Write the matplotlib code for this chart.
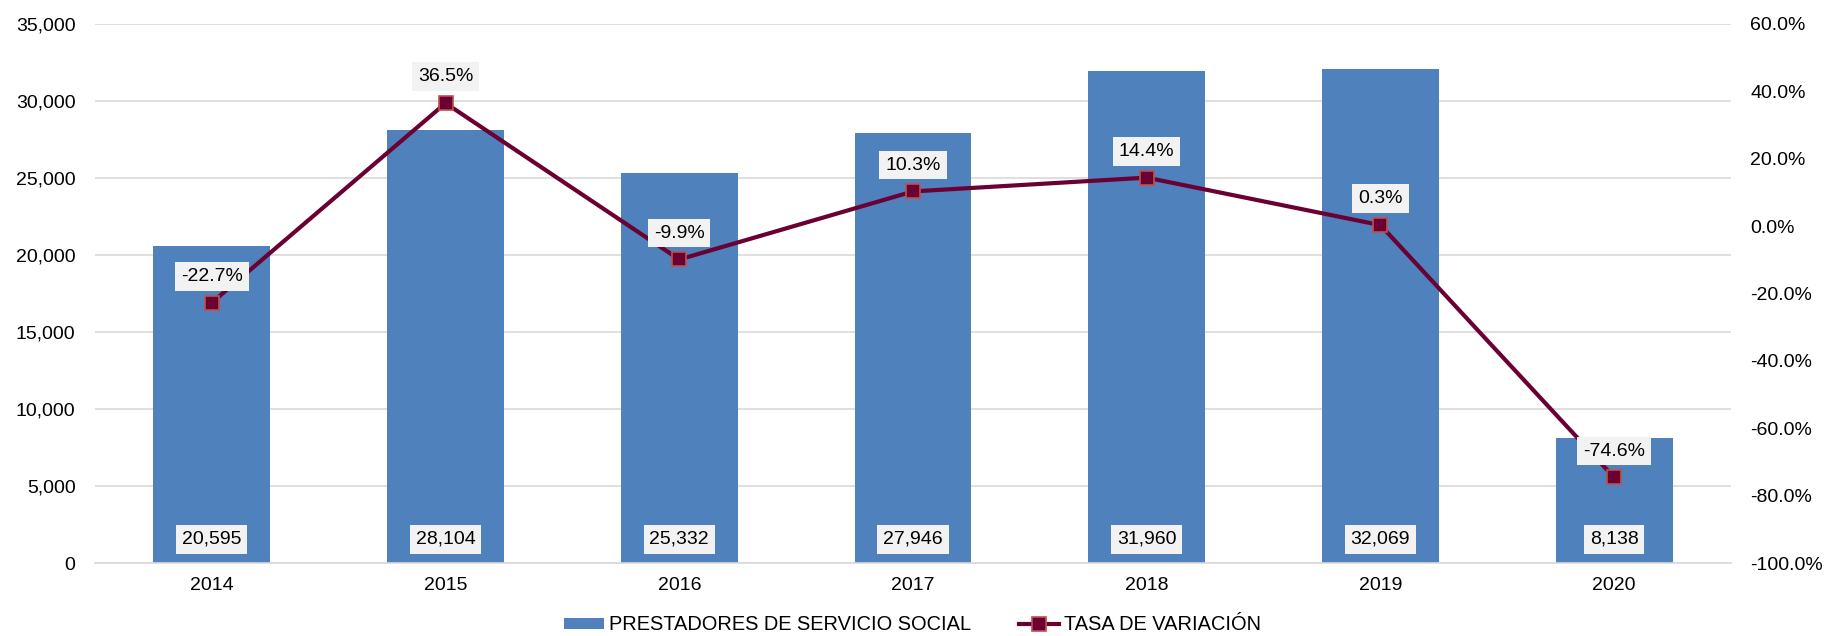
import matplotlib.pyplot as plt
from matplotlib.ticker import FuncFormatter

plt.rcParams['font.family'] = ['Liberation Sans', 'DejaVu Sans']

years = ["2014", "2015", "2016", "2017", "2018", "2019", "2020"]
prestadores = [20595, 28104, 25332, 27946, 31960, 32069, 8138]
tasa = [-22.7, 36.5, -9.9, 10.3, 14.4, 0.3, -74.6]

bar_color = "#4F81BD"
line_color = "#6B0032"
edge_color = "#C0504D"
box = dict(boxstyle="square,pad=0.3", fc="#F2F2F2", ec="none")
fs = 14

fig = plt.figure(figsize=(18.25, 6.36), dpi=100)
ax = fig.add_axes([95 / 1825, 1 - 563 / 636, (1731 - 95) / 1825, (563 - 24) / 636])
ax2 = ax.twinx()

x = list(range(len(years)))
ax.bar(x, prestadores, width=0.5, color=bar_color, zorder=2,
       label="PRESTADORES DE SERVICIO SOCIAL")
ax.set_ylim(0, 35000)
ax.set_yticks(range(0, 35001, 5000))
ax.yaxis.set_major_formatter(FuncFormatter(lambda v, p: f"{v:,.0f}"))
ax.set_xlim(-0.5, len(years) - 0.5)
ax.set_xticks(x)
ax.set_xticklabels(years)
ax.grid(axis="y", color="#D9D9D9", linewidth=1.2, zorder=0)
ax.set_axisbelow(True)
for s in ["top", "right", "left"]:
    ax.spines[s].set_visible(False)
ax.spines["bottom"].set_color("#D9D9D9")
ax.spines["bottom"].set_linewidth(1.2)
ax.tick_params(axis="both", length=0, labelsize=fs, pad=14)
ax.tick_params(axis="x", pad=10)

for xi, v in zip(x, prestadores):
    ax.annotate(f"{v:,}", (xi, 0), xytext=(0, 17), textcoords="offset points",
                ha="center", va="center", fontsize=fs, bbox=box, zorder=5)

ax2.plot(x, tasa, color=line_color, linewidth=3, marker="s", markersize=10,
         markerfacecolor=line_color, markeredgecolor=edge_color, markeredgewidth=1.2,
         zorder=4, label="TASA DE VARIACIÓN")
ax2.set_ylim(-100, 60)
ax2.set_yticks(range(-100, 61, 20))
ax2.yaxis.set_major_formatter(FuncFormatter(lambda v, p: f"{v:.1f}%"))
for s in ["top", "right", "left", "bottom"]:
    ax2.spines[s].set_visible(False)
ax2.tick_params(axis="y", length=0, labelsize=fs, pad=14)

for xi, v in zip(x, tasa):
    ax2.annotate(f"{v:.1f}%", (xi, v), xytext=(0, 19), textcoords="offset points",
                 ha="center", va="center", fontsize=fs, bbox=box, zorder=6)

h1, l1 = ax.get_legend_handles_labels()
h2, l2 = ax2.get_legend_handles_labels()
fig.legend(h1 + h2, l1 + l2, loc="center", bbox_to_anchor=(0.5, 1 - 625 / 636),
           ncol=2, frameon=False, prop={"size": 14.4}, handlelength=2.0,
           handleheight=0.5, columnspacing=2.4, handletextpad=0.25)

fig.savefig("out.png", dpi=100)
